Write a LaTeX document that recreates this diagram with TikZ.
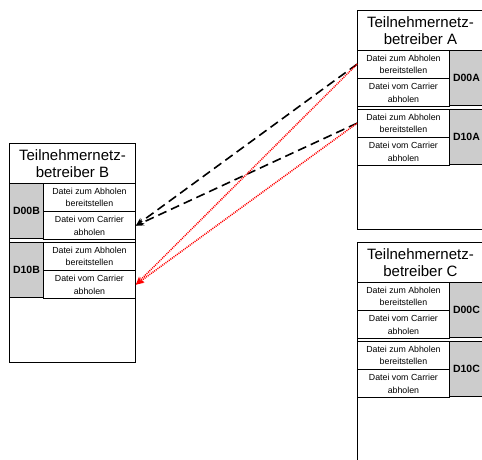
\documentclass[tikz,border=0pt]{standalone}
\usepackage{fontspec}
\setmainfont{Liberation Sans}
\usetikzlibrary{arrows.meta,positioning}

\tikzset{
  frame/.style={draw,line width=0.9pt,minimum width=126pt,minimum height=219pt,anchor=north west,inner sep=0pt},
  title/.style={font=\fontsize{15}{17}\selectfont,align=center,anchor=north,inner sep=0pt,minimum height=40pt},
  cell/.style={draw,line width=0.9pt,font=\fontsize{8.8}{12.5}\selectfont,align=center,minimum width=92pt,minimum height=27.5pt,inner sep=0pt,anchor=north west},
  tag/.style={draw,line width=0.9pt,fill=gray!40,font=\fontsize{10.5}{11}\selectfont\bfseries,minimum width=34pt,minimum height=55pt,inner sep=0pt,anchor=north west},
  fetch/.style={-{Stealth[length=8pt,width=7pt]},line width=1.6pt,dash pattern=on 9pt off 5pt},
  carrier/.style={-{Stealth[length=8pt,width=7pt]},red,line width=1.5pt,dash pattern=on 1pt off 1pt},
}

\begin{document}
\begin{tikzpicture}[x=1pt,y=-1pt]
        \useasboundingbox (0,0) rectangle (482,459);

        % Teilnehmernetzbetreiber B
        \node[frame] (B) at (9,143) {};
        \node[title] (tB) at (B.north) {Teilnehmernetz-\\betreiber B};
        \node[tag] (B0) at (9,183) {D00B};
        \node[cell] (B0a) at (43,183) {Datei zum Abholen\\bereitstellen};
        \node[cell,below=0pt of B0a] (B0b) {Datei vom Carrier\\abholen};
        \node[tag] (B1) at (9,242) {D10B};
        \node[cell] (B1a) at (43,242) {Datei zum Abholen\\bereitstellen};
        \node[cell,below=0pt of B1a] (B1b) {Datei vom Carrier\\abholen};

        % Teilnehmernetzbetreiber A
        \node[frame] (A) at (357,10) {};
        \node[title] (tA) at (A.north) {Teilnehmernetz-\\betreiber A};
        \node[cell] (A0a) at (357,50) {Datei zum Abholen\\bereitstellen};
        \node[cell,below=0pt of A0a] (A0b) {Datei vom Carrier\\abholen};
        \node[tag] (A0) at (449,50) {D00A};
        \node[cell] (A1a) at (357,109) {Datei zum Abholen\\bereitstellen};
        \node[cell,below=0pt of A1a] (A1b) {Datei vom Carrier\\abholen};
        \node[tag] (A1) at (449,109) {D10A};

        % Teilnehmernetzbetreiber C
        \node[frame] (C) at (357,242) {};
        \node[title] (tC) at (C.north) {Teilnehmernetz-\\betreiber C};
        \node[cell] (C0a) at (357,282) {Datei zum Abholen\\bereitstellen};
        \node[cell,below=0pt of C0a] (C0b) {Datei vom Carrier\\abholen};
        \node[tag] (C0) at (449,282) {D00C};
        \node[cell] (C1a) at (357,341) {Datei zum Abholen\\bereitstellen};
        \node[cell,below=0pt of C1a] (C1b) {Datei vom Carrier\\abholen};
        \node[tag] (C1) at (449,341) {D10C};

        % Dateien von A nach B
        \draw[fetch] (A0a.west) -- (B0b.east);
        \draw[fetch] (A1a.west) -- (B0b.east);
        \draw[carrier] (A0a.west) -- (B1b.east);
        \draw[carrier] (A1a.west) -- (B1b.east);
    \end{tikzpicture}
\end{document}
